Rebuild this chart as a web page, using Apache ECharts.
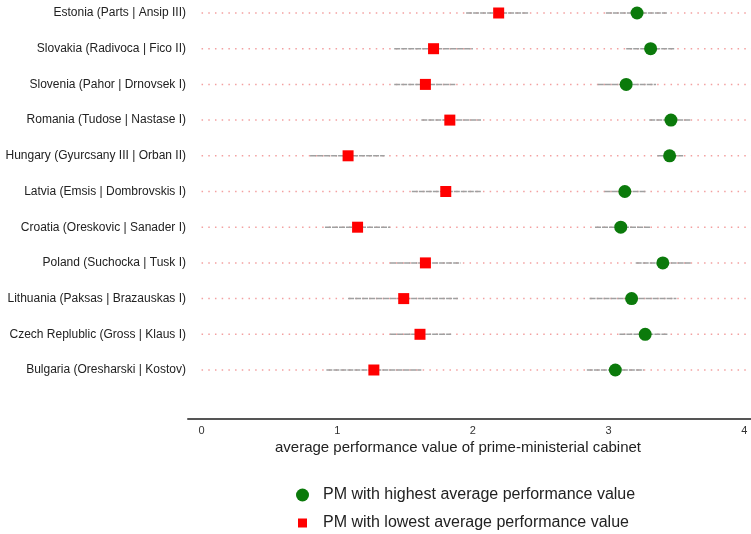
<!DOCTYPE html>
<html>
<head>
<meta charset="utf-8">
<script src="https://cdn.jsdelivr.net/npm/echarts@6/dist/echarts.min.js"></script>
<style>
  html, body { margin: 0; padding: 0; background: #fff; }
  #chart { width: 751px; height: 534px; }
</style>
</head>
<body>
<div id="chart"></div>
<script>
// Categories listed bottom to top
const categories = [
  'Bulgaria (Oresharski | Kostov)',
  'Czech Replublic (Gross | Klaus I)',
  'Lithuania (Paksas | Brazauskas I)',
  'Poland (Suchocka | Tusk I)',
  'Croatia (Oreskovic | Sanader I)',
  'Latvia (Emsis | Dombrovskis I)',
  'Hungary (Gyurcsany III | Orban II)',
  'Romania (Tudose | Nastase I)',
  'Slovenia (Pahor | Drnovsek I)',
  'Slovakia (Radivoca | Fico II)',
  'Estonia (Parts | Ansip III)'
];
// PM with highest average performance value
const highValues = [3.05, 3.27, 3.17, 3.40, 3.09, 3.12, 3.45, 3.46, 3.13, 3.31, 3.21];
const highLow    = [2.84, 3.08, 2.86, 3.20, 2.90, 2.97, 3.36, 3.30, 2.92, 3.13, 2.98];
const highHigh   = [3.26, 3.44, 3.50, 3.61, 3.31, 3.28, 3.55, 3.61, 3.35, 3.49, 3.43];
// PM with lowest average performance value
const lowValues  = [1.27, 1.61, 1.49, 1.65, 1.15, 1.80, 1.08, 1.83, 1.65, 1.71, 2.19];
const lowLow     = [0.92, 1.39, 1.08, 1.39, 0.91, 1.55, 0.80, 1.62, 1.42, 1.42, 1.95];
const lowHigh    = [1.62, 1.84, 1.89, 1.91, 1.39, 2.06, 1.35, 2.06, 1.87, 2.00, 2.41];
const xTickLabels = [0, 1, 2, 3, 4];

const xMin = -0.1, xMax = 4.05;
const FONT = '"Liberation Sans", Arial, sans-serif';

function guideItem(params, api) {
  const y = api.value(1);
  const p0 = api.coord([0, y]);
  const p1 = api.coord([xMax, y]);
  return {
    type: 'line',
    shape: { x1: p0[0], y1: p0[1], x2: p1[0], y2: p1[1] },
    style: { stroke: '#f3a0a0', lineWidth: 1.5, lineDash: [1.5, 5.2] }
  };
}
function barItem(params, api) {
  const y = api.value(2);
  const p0 = api.coord([api.value(0), y]);
  const p1 = api.coord([api.value(1), y]);
  return {
    type: 'line',
    shape: { x1: p0[0], y1: p0[1], x2: p1[0], y2: p1[1] },
    style: { stroke: '#a0a0a0', lineWidth: 1.5, lineDash: [6, 1] }
  };
}

const chart = echarts.init(document.getElementById('chart'), null, { renderer: 'canvas' });
chart.setOption({
  animation: false,
  backgroundColor: '#ffffff',
  title: {
    text: 'average performance value of prime-ministerial cabinet',
    left: 270, top: 435,
    textStyle: { fontFamily: FONT, fontSize: 15, fontWeight: 'normal', color: '#222' }
  },
  legend: {
    orient: 'vertical',
    left: 296, top: 486,
    width: 430, height: 48,
    padding: 0,
    itemGap: 10,
    itemWidth: 13, itemHeight: 13,
    textStyle: { fontFamily: FONT, fontSize: 16, lineHeight: 18, color: '#222', padding: [0, 0, 0, 9] },
    data: [
      { name: 'PM with highest average performance value', icon: 'circle' },
      { name: 'PM with lowest average performance value', icon: 'path://M0,0M13,13M2,2h9v9h-9z' }
    ]
  },
  grid: { left: 188, right: 0, top: 13, height: 357, containLabel: false },
  xAxis: {
    type: 'value',
    min: xMin, max: xMax,
    position: 'bottom',
    offset: 49,
    axisLine: { show: true, lineStyle: { color: '#555', width: 2 } },
    axisTick: { show: false },
    splitLine: { show: false },
    axisLabel: {
      customValues: xTickLabels,
      margin: 6,
      fontFamily: FONT, fontSize: 11, color: '#333'
    }
  },
  yAxis: {
    type: 'category',
    data: categories,
    boundaryGap: false,
    axisLine: { show: false },
    axisTick: { show: false },
    splitLine: { show: false },
    axisLabel: { margin: 2, fontFamily: FONT, fontSize: 12, color: '#222' }
  },
  series: [
    {
      type: 'custom', name: 'guides', silent: true, clip: false,
      renderItem: guideItem,
      encode: { x: 0, y: 1 },
      data: categories.map((c, i) => [0, i]),
      z: 1
    },
    {
      type: 'custom', name: 'lowBars', silent: true,
      renderItem: barItem,
      encode: { x: [0, 1], y: 2 },
      data: categories.map((c, i) => [lowLow[i], lowHigh[i], i]),
      z: 2
    },
    {
      type: 'custom', name: 'highBars', silent: true,
      renderItem: barItem,
      encode: { x: [0, 1], y: 2 },
      data: categories.map((c, i) => [highLow[i], highHigh[i], i]),
      z: 2
    },
    {
      type: 'scatter',
      name: 'PM with highest average performance value',
      symbol: 'circle', symbolSize: 13,
      itemStyle: { color: '#0b7a0b', opacity: 1 },
      data: highValues.map((v, i) => [v, categories[i]]),
      z: 3
    },
    {
      type: 'scatter',
      name: 'PM with lowest average performance value',
      symbol: 'rect', symbolSize: 11,
      itemStyle: { color: '#ff0000', opacity: 1 },
      data: lowValues.map((v, i) => [v, categories[i]]),
      z: 3
    }
  ]
});
</script>
</body>
</html>
